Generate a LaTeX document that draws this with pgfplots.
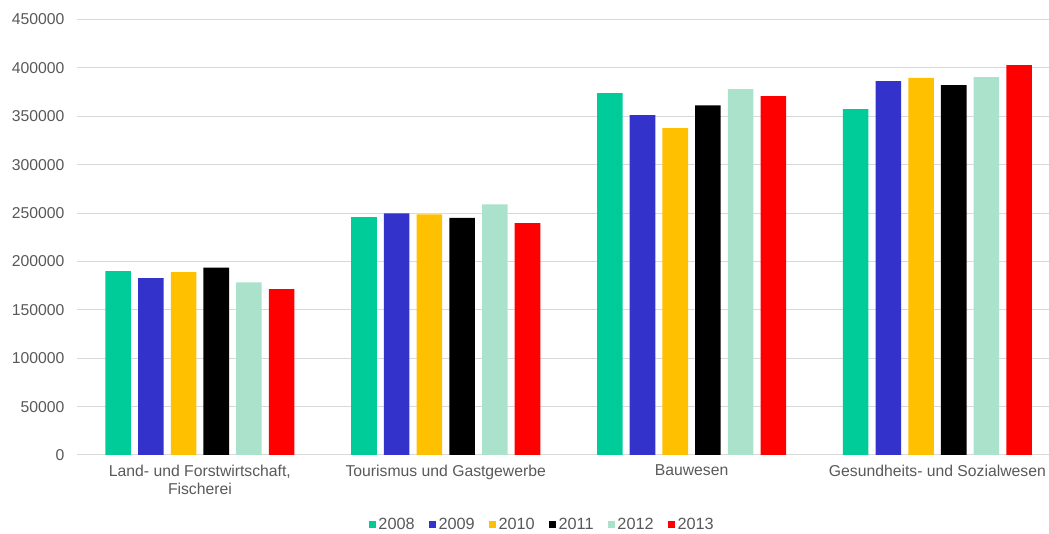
\documentclass[border=0pt]{standalone}
\usepackage{pgfplots}
\pgfplotsset{compat=1.18}
\usepackage{fontspec}
\setmainfont{Liberation Sans}
\definecolor{c08}{RGB}{0,204,153}
\definecolor{c09}{RGB}{51,51,204}
\definecolor{c10}{RGB}{255,192,0}
\definecolor{c11}{RGB}{0,0,0}
\definecolor{c12}{RGB}{171,226,203}
\definecolor{c13}{RGB}{255,0,0}
\definecolor{txt}{RGB}{89,89,89}
\definecolor{grd}{RGB}{217,217,217}
\begin{document}
\begin{tikzpicture}
\useasboundingbox (-57.75pt,-59.25pt) rectangle (729pt,341.25pt);
\begin{axis}[
  at={(0,0)}, anchor=south west,
  scale only axis,
  width=729pt, height=326.6pt,
  xmin=-0.5, xmax=3.454,
  ymin=0, ymax=450000,
  ytick={0,50000,100000,150000,200000,250000,300000,350000,400000,450000},
  yticklabels={0,50000,100000,150000,200000,250000,300000,350000,400000,450000},
  xtick={0,1,2,3},
  xticklabels={{Land- und Forstwirtschaft,\\Fischerei},{Tourismus und Gastgewerbe},{Bauwesen},{Gesundheits- und Sozialwesen}},
  x tick label style={align=center, text=txt, font=\fontsize{11.8}{13.5}\selectfont, yshift=-4pt},
  y tick label style={text=txt, font=\fontsize{11.8}{13}\selectfont, xshift=-6pt},
  scaled y ticks=false,
  major tick length=0pt,
  ymajorgrids, grid style={grd, line width=0.75pt},
  axis x line*=bottom, axis y line*=left,
  x axis line style={grd, line width=0.75pt, -},
  y axis line style={draw=none},
  clip=false,
  ybar, bar width=0.104,
  legend style={at={(0.4789,-0.1607)}, anchor=center, draw=none, fill=none,
    legend columns=6, font=\fontsize{12.2}{13}\selectfont, text=txt,
    /tikz/every even column/.style={column sep=8.5pt}},
  legend image code/.code={\fill[#1] (0pt,-2.6pt) rectangle (5.4pt,2.8pt);},
  legend cell align=left,
]
\addplot[fill=c08, draw=none, bar shift=-0.3325] coordinates {(0,190000) (1,245900) (2,374000) (3,357400)};
\addplot[fill=c09, draw=none, bar shift=-0.1995] coordinates {(0,182900) (1,249700) (2,351200) (3,386300)};
\addplot[fill=c10, draw=none, bar shift=-0.0665] coordinates {(0,189000) (1,248600) (2,337800) (3,389800)};
\addplot[fill=c11, draw=none, bar shift=0.0665] coordinates {(0,193500) (1,245100) (2,361200) (3,382200)};
\addplot[fill=c12, draw=none, bar shift=0.1995] coordinates {(0,178400) (1,259000) (2,378100) (3,390500)};
\addplot[fill=c13, draw=none, bar shift=0.3325] coordinates {(0,171500) (1,239700) (2,370800) (3,402900)};
\legend{2008,2009,2010,2011,2012,2013}
\end{axis}
\end{tikzpicture}
\end{document}
